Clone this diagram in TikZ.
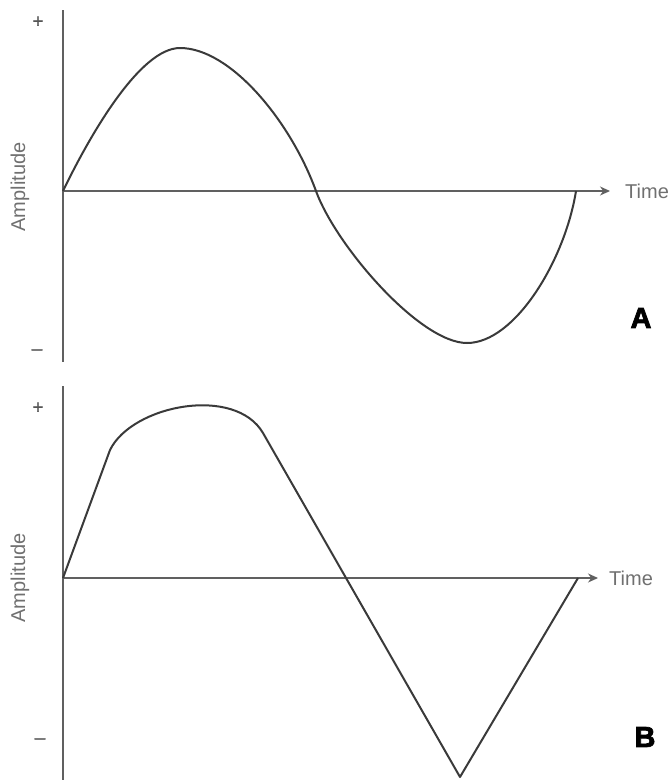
\documentclass[tikz,border=0pt]{standalone}
\usepackage{fontspec}
\setmainfont{Liberation Sans}
\newfontfamily\heavyfont[FakeBold=2.5]{Liberation Sans Bold}
\newfontfamily\pmfont[FakeBold=1]{Liberation Sans}
\usetikzlibrary{arrows.meta}
\definecolor{axisc}{HTML}{606060}
\definecolor{curvec}{HTML}{3A3A3A}
\definecolor{textc}{HTML}{707070}
\definecolor{pmc}{HTML}{555555}
\tikzset{
  axisline/.style={draw=axisc, line width=1.3pt},
  arrowaxis/.style={axisline, -{Stealth[length=10pt,width=9pt]}},
  wave/.style={draw=curvec, line width=2pt, line join=round},
  lbl/.style={text=textc, font=\fontsize{20}{20}\selectfont, inner sep=0pt},
  pm/.style={text=pmc, font=\fontsize{19}{19}\selectfont\pmfont, inner sep=0pt},
  panel/.style={text=black, font=\fontsize{29}{29}\selectfont\heavyfont, inner sep=0pt}
}
\begin{document}
\begin{tikzpicture}[x=1pt,y=-1pt]
\useasboundingbox (0,0) rectangle (669,780);
% ---------- Panel A ----------
\coordinate (aTop) at (63,10);
\coordinate (aBot) at (63,362);
\coordinate (aO) at (63,191);
\coordinate (aEnd) at (610,191);
\draw[axisline] (aTop) -- (aBot);
\draw[arrowaxis] (aO) -- (aEnd);
\node[lbl, anchor=west] (timeA) at (625,191) {Time};
\node[lbl, rotate=90] (ampA) at (20,187) {Amplitude};
\node[pm] (plusA) at (38,22) {+};
\node[pm] (minusA) at (37,352) {\textendash};
\node[panel] (labA) at (641,318) {A};
\coordinate (a1) at (180,48);
\coordinate (a2) at (316,191);
\coordinate (a3) at (467,343);
\coordinate (a4) at (576,191);
\draw[wave] (aO) .. controls (90,135) and (140,48) .. (a1)
  .. controls (230,48) and (290,120) .. (a2)
  .. controls (336,246) and (420,343) .. (a3)
  .. controls (515,343) and (565,260) .. (a4);
% ---------- Panel B ----------
\coordinate (bTop) at (63,386);
\coordinate (bBot) at (63,780);
\coordinate (bO) at (63,578);
\coordinate (bEnd) at (598,578);
\draw[axisline] (bTop) -- (bBot);
\draw[arrowaxis] (bO) -- (bEnd);
\node[lbl, anchor=west] (timeB) at (609,578) {Time};
\node[lbl, rotate=90] (ampB) at (20,578) {Amplitude};
\node[pm] (plusB) at (38,408) {+};
\node[pm] (minusB) at (40,741) {\textendash};
\node[panel] (labB) at (645,737) {B};
\coordinate (b1) at (110,450);
\coordinate (b2) at (263,433);
\coordinate (b3) at (460,777);
\coordinate (b4) at (578,578);
\draw[wave] (bO) -- (b1)
  .. controls (132,405) and (235,385) .. (b2)
  -- (b3) -- (b4);
\end{tikzpicture}
\end{document}
